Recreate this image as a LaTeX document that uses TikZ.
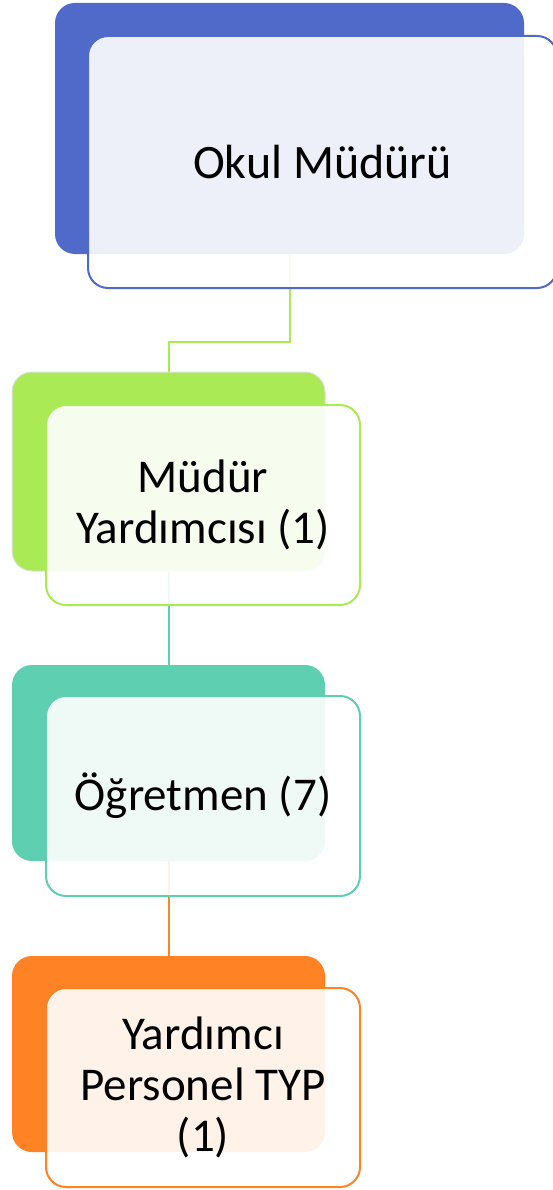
\documentclass[tikz,border=0pt]{standalone}
\usepackage{fontspec}
\setmainfont{Carlito}
\definecolor{cblue}{HTML}{4F6AC9}
\definecolor{cgreen}{HTML}{A9EA55}
\definecolor{cteal}{HTML}{5ECFB1}
\definecolor{corange}{HTML}{FF8224}
\tikzset{
  backbox/.style={rectangle, rounded corners=20pt, fill=#1, draw=none, inner sep=0pt},
  frontbox/.style={rectangle, rounded corners=20pt, fill=white, fill opacity=0.9, text opacity=1, draw=#1, line width=2pt, inner sep=0pt, align=center, font=\fontsize{47}{51}\selectfont},
  conn/.style={draw=#1, line width=2pt},
  smallbox/.style={minimum width=313pt, minimum height=197pt}
}
\begin{document}
\begin{tikzpicture}[x=1pt,y=-1pt]
\useasboundingbox (0,0) rectangle (552,1190);
% back boxes
\node[backbox=cblue, minimum width=469pt, minimum height=251pt] (b1) at (289.5,128.5) {};
\node[backbox=cgreen, smallbox, minimum height=199pt, draw=black!12, line width=1pt] (b2) at (168.5,471.5) {};
\node[backbox=cteal, smallbox, minimum height=196pt] (b3) at (168.5,763) {};
\node[backbox=corange, smallbox, minimum height=196pt] (b4) at (168.5,1054) {};
% connectors
\coordinate (k1) at (289.5,342);
\draw[conn=cgreen] (b1.south) -- (k1) -| (b2.north);
\draw[conn=cteal] (b2.south) -- (b3.north);
\draw[conn=corange] (b3.south) -- (b4.north);
% front boxes
\node[frontbox=cblue, minimum width=469pt, minimum height=252pt, font=\fontsize{48}{52}\selectfont] (f1) at (322.5,162) {Okul Müdürü};
\node[frontbox=cgreen, minimum width=314pt, minimum height=200pt] (f2) at (203,505) {Müdür\\Yardımcısı (1)};
\node[frontbox=cteal, minimum width=314pt, minimum height=200pt] (f3) at (203,796) {Öğretmen (7)};
\node[frontbox=corange, minimum width=314pt, minimum height=199pt] (f4) at (203,1087.5) {Yardımcı\\Personel TYP\\(1)};
\end{tikzpicture}
\end{document}
